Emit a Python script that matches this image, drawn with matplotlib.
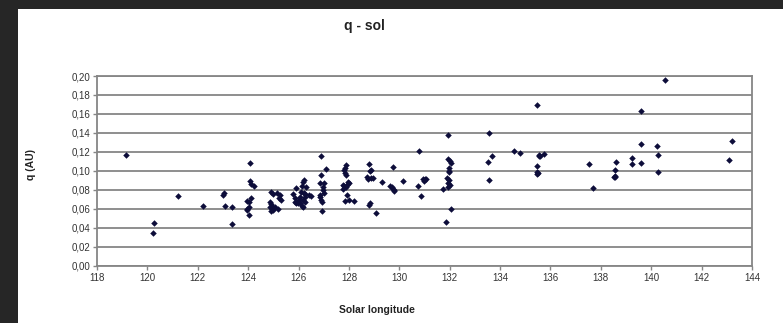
import matplotlib
matplotlib.use("Agg")
from matplotlib import pyplot as plt
from matplotlib.patches import Rectangle
from matplotlib.ticker import FuncFormatter, MultipleLocator

plt.rcParams['font.family'] = ['Liberation Sans Narrow', 'Liberation Sans', 'DejaVu Sans']

# Solar longitude (deg) and perihelion distance q (AU)
sol = [119.15, 120.27, 120.22, 121.23, 122.19, 123.01, 123.04, 123.08, 123.36, 123.35,
       124.07, 124.07, 124.10, 124.22, 123.94, 124.02, 124.10, 123.97, 124.03, 123.94, 124.02,
       124.89, 125.00, 125.15, 125.26, 125.23, 125.29, 124.87, 124.89, 124.94, 124.87,
       124.94, 125.00, 125.07, 125.18, 124.92,
       125.90, 125.79, 125.85, 125.87, 125.88, 126.03, 126.05, 126.16, 126.20, 126.13,
       126.30, 126.10, 126.20, 126.27, 126.43, 126.48, 126.05, 126.24, 126.16, 126.24,
       126.13, 126.16, 125.98,
       126.88, 127.09, 126.88, 126.85, 127.03, 126.96, 126.98, 126.84, 126.87, 126.90,
       126.94, 127.00, 126.94,
       127.87, 127.85, 127.82, 127.85, 127.90, 127.78, 127.82, 127.90, 127.94, 128.02,
       127.76, 127.98, 127.94, 127.83, 127.99, 128.20,
       128.78, 128.86, 128.84, 128.70, 128.76, 128.86, 128.94, 129.30, 128.82, 128.78, 129.07,
       129.76, 129.65, 129.70, 129.75, 129.80, 129.78, 130.15, 130.78, 130.76, 130.85,
       130.95, 131.00, 131.06, 130.98,
       131.93, 131.93, 132.00, 132.06, 131.98, 131.96, 131.97, 131.90, 131.96, 131.93,
       132.00, 131.95, 131.74, 132.06, 131.85,
       133.55, 133.67, 133.54, 133.57, 134.55, 134.80, 135.45, 135.55, 135.58, 135.53,
       135.74, 135.45, 135.48, 135.52, 135.46, 137.51, 137.69,
       138.62, 138.57, 138.55, 138.58, 138.53, 139.23, 139.23, 139.60, 139.60, 139.60,
       140.53, 140.24, 140.26, 140.26, 143.20, 143.09]
q = [0.117, 0.045, 0.035, 0.074, 0.063, 0.075, 0.077, 0.063, 0.062, 0.044,
     0.108, 0.089, 0.086, 0.084, 0.068, 0.067, 0.071, 0.060, 0.062, 0.059, 0.053,
     0.078, 0.076, 0.077, 0.075, 0.071, 0.069, 0.067, 0.065, 0.063, 0.062,
     0.060, 0.059, 0.062, 0.060, 0.058,
     0.0815, 0.076, 0.071, 0.067, 0.066, 0.069, 0.066, 0.0885, 0.090, 0.084,
     0.0825, 0.078, 0.077, 0.0755, 0.0745, 0.073, 0.072, 0.072, 0.069, 0.067,
     0.063, 0.0615, 0.066,
     0.116, 0.1015, 0.0955, 0.0874, 0.0874, 0.0825, 0.0797, 0.0745, 0.072, 0.069,
     0.067, 0.077, 0.0576,
     0.106, 0.103, 0.101, 0.098, 0.0955, 0.085, 0.084, 0.083, 0.085, 0.087,
     0.081, 0.0884, 0.0745, 0.068, 0.069, 0.068,
     0.1067, 0.101, 0.100, 0.094, 0.0915, 0.0925, 0.092, 0.088, 0.066, 0.0636, 0.0558,
     0.104, 0.084, 0.083, 0.081, 0.079, 0.080, 0.0895, 0.121, 0.084, 0.074,
     0.091, 0.0915, 0.0915, 0.089,
     0.138, 0.112, 0.110, 0.108, 0.1025, 0.100, 0.0985, 0.092, 0.090, 0.087,
     0.085, 0.0825, 0.0804, 0.060, 0.0463,
     0.1404, 0.116, 0.109, 0.090, 0.121, 0.1193, 0.169, 0.117, 0.1155, 0.116,
     0.118, 0.105, 0.099, 0.098, 0.097, 0.107, 0.0815,
     0.1095, 0.1007, 0.095, 0.093, 0.094, 0.1137, 0.107, 0.163, 0.128, 0.108,
     0.196, 0.1267, 0.117, 0.099, 0.1313, 0.111]

W, H = 783, 323
fig = plt.figure(figsize=(W / 100, H / 100), dpi=100, facecolor='#262626')
# white "sheet" inside the dark frame
fig.patches.append(Rectangle((17.5 / W, 0), 1 - 17.5 / W, 1 - 9 / H, transform=fig.transFigure,
                             facecolor='white', edgecolor='none', zorder=-1))

ax = fig.add_axes([97 / W, 1 - 265.7 / H, (752 - 97) / W, (265.7 - 76) / H])
ax.set_zorder(2)
ax.set_facecolor('white')
ax.scatter(sol, q, marker='D', s=11, color='#0d0d3a', zorder=3, linewidths=0)

ax.set_xlim(118, 144)
ax.set_ylim(0, 0.20)
ax.xaxis.set_major_locator(MultipleLocator(2))
ax.yaxis.set_major_locator(MultipleLocator(0.02))
ax.yaxis.set_major_formatter(FuncFormatter(lambda v, p: f"{v:.2f}".replace('.', ',')))
ax.grid(axis='y', color='#868686', linewidth=1.3, zorder=1)
ax.set_axisbelow(True)
for s in ax.spines.values():
    s.set_color('#868686')
    s.set_linewidth(1.3)
ax.tick_params(axis='both', direction='out', length=3, width=1, color='#868686',
               labelsize=7, labelcolor='#333333', pad=2)

fig.text(364 / W, 1 - 26 / H, 'q - sol', ha='center', va='center', fontsize=10,
         fontweight='bold', color='#222222')
fig.text(377 / W, 1 - 310 / H, 'Solar longitude', ha='center', va='center', fontsize=7.5,
         fontweight='bold', color='#222222')
fig.text(31 / W, 1 - 165 / H, 'q (AU)', ha='center', va='center', fontsize=7.5,
         fontweight='bold', rotation=90, color='#222222')

fig.savefig('out.png', dpi=100, facecolor=fig.get_facecolor())
